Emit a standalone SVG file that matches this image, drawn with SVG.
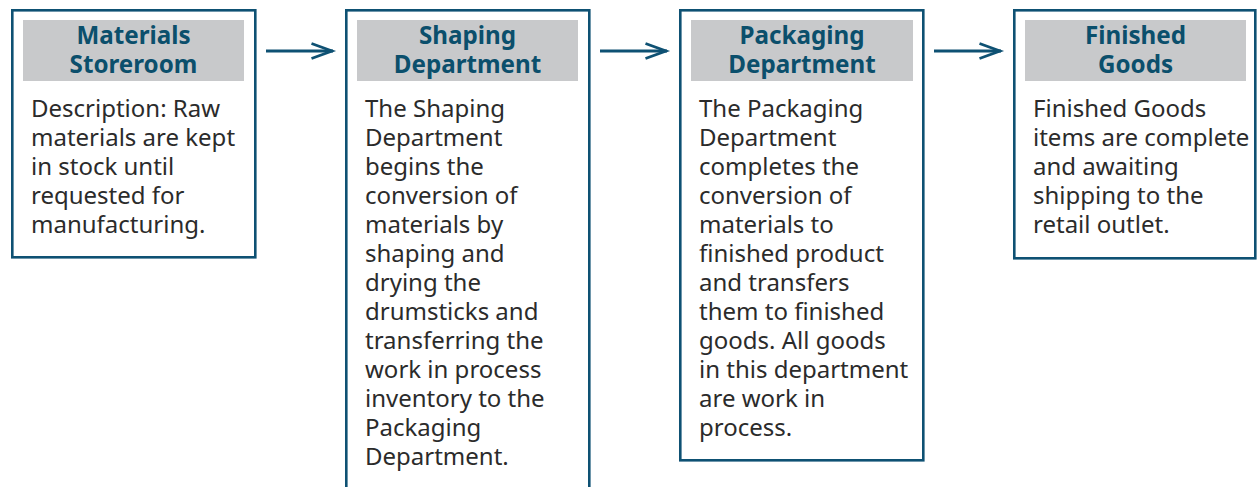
<svg xmlns="http://www.w3.org/2000/svg" width="1257" height="487" viewBox="0 0 1257 487">
<style>
.box{fill:#fff;stroke:#0e5173;stroke-width:2.6}
.hdr{fill:#c8c9cb}
.ttl{font-family:"Noto Sans","Open Sans",sans-serif;font-weight:bold;font-size:24.2px;fill:#0b4f6c;text-anchor:middle}
.txt{font-family:"Noto Sans","Open Sans",sans-serif;font-size:24px;fill:#2b2b2b}
.conn{fill:none;stroke:#0e5173;stroke-width:2.8;stroke-linecap:butt;stroke-linejoin:miter}
</style>
<defs>
<marker id="arr" markerUnits="userSpaceOnUse" markerWidth="30" markerHeight="30" refX="24" refY="15" orient="auto">
<path d="M2.5,7.5 L23,15 L2.5,22.5" fill="none" stroke="#0e5173" stroke-width="2.8"/>
</marker>
</defs>
<rect width="1257" height="487" fill="#fff"/>
<g id="connectors">
<line class="conn" x1="266" y1="51" x2="333" y2="51" marker-end="url(#arr)"/>
<line class="conn" x1="600" y1="51" x2="667" y2="51" marker-end="url(#arr)"/>
<line class="conn" x1="934" y1="51" x2="1001" y2="51" marker-end="url(#arr)"/>
</g>
<g id="materials-storeroom">
<rect class="box" x="12.3" y="10.3" width="243" height="247"/>
<rect class="hdr" x="23" y="20" width="221" height="61"/>
<text class="ttl" x="133.5" y="44">Materials</text>
<text class="ttl" x="133.5" y="72.5">Storeroom</text>
<text class="txt">
<tspan x="31" y="116.5">Description: Raw</tspan>
<tspan x="31" y="145.5">materials are kept</tspan>
<tspan x="31" y="174.5">in stock until</tspan>
<tspan x="31" y="203.5">requested for</tspan>
<tspan x="31" y="232.5">manufacturing.</tspan>
</text>
</g>
<g id="shaping-department">
<rect class="box" x="346.3" y="10.3" width="243" height="490"/>
<rect class="hdr" x="357" y="20" width="221" height="61"/>
<text class="ttl" x="467.5" y="44">Shaping</text>
<text class="ttl" x="467.5" y="72.5">Department</text>
<text class="txt">
<tspan x="365" y="116.5">The Shaping</tspan>
<tspan x="365" y="145.5">Department</tspan>
<tspan x="365" y="174.5">begins the</tspan>
<tspan x="365" y="203.5">conversion of</tspan>
<tspan x="365" y="232.5">materials by</tspan>
<tspan x="365" y="261.5">shaping and</tspan>
<tspan x="365" y="290.5">drying the</tspan>
<tspan x="365" y="319.5">drumsticks and</tspan>
<tspan x="365" y="348.5">transferring the</tspan>
<tspan x="365" y="377.5">work in process</tspan>
<tspan x="365" y="406.5">inventory to the</tspan>
<tspan x="365" y="435.5">Packaging</tspan>
<tspan x="365" y="464.5">Department.</tspan>
</text>
</g>
<g id="packaging-department">
<rect class="box" x="680.3" y="10.3" width="243" height="450"/>
<rect class="hdr" x="691" y="20" width="222" height="61"/>
<text class="ttl" x="802" y="44">Packaging</text>
<text class="ttl" x="802" y="72.5">Department</text>
<text class="txt">
<tspan x="699" y="116.5">The Packaging</tspan>
<tspan x="699" y="145.5">Department</tspan>
<tspan x="699" y="174.5">completes the</tspan>
<tspan x="699" y="203.5">conversion of</tspan>
<tspan x="699" y="232.5">materials to</tspan>
<tspan x="699" y="261.5">finished product</tspan>
<tspan x="699" y="290.5">and transfers</tspan>
<tspan x="699" y="319.5">them to finished</tspan>
<tspan x="699" y="348.5">goods. All goods</tspan>
<tspan x="699" y="377.5">in this department</tspan>
<tspan x="699" y="406.5">are work in</tspan>
<tspan x="699" y="435.5">process.</tspan>
</text>
</g>
<g id="finished-goods">
<rect class="box" x="1014.3" y="10.3" width="241" height="248"/>
<rect class="hdr" x="1025" y="20" width="221" height="61"/>
<text class="ttl" x="1135.5" y="44">Finished</text>
<text class="ttl" x="1135.5" y="72.5">Goods</text>
<text class="txt">
<tspan x="1033" y="116.5">Finished Goods</tspan>
<tspan x="1033" y="145.5">items are complete</tspan>
<tspan x="1033" y="174.5">and awaiting</tspan>
<tspan x="1033" y="203.5">shipping to the</tspan>
<tspan x="1033" y="232.5">retail outlet.</tspan>
</text>
</g>
</svg>
